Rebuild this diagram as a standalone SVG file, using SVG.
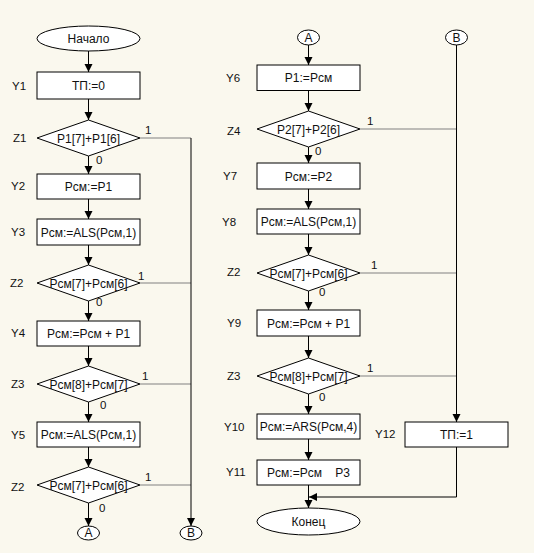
<svg xmlns="http://www.w3.org/2000/svg" width="534" height="553" viewBox="0 0 534 553">
<style>
.s{fill:#fff;stroke:#000;stroke-width:1}
.t{font-family:"Liberation Sans",Arial,sans-serif;font-size:12px;fill:#111;text-anchor:middle}
.l{font-family:"Liberation Sans",Arial,sans-serif;font-size:11.5px;fill:#111}
.a{stroke:#000;stroke-width:1;fill:none;marker-end:url(#ah)}
.g{stroke:#808080;stroke-width:1;fill:none}
</style>
<defs>
<marker id="ah" markerUnits="userSpaceOnUse" markerWidth="10" markerHeight="10" refX="8" refY="4" orient="auto">
<path d="M0,0 L8,4 L0,8 Z" fill="#000"/>
</marker>
</defs>
<rect width="534" height="553" fill="#faf8ee"/>
<g id="connectors">
<line class="a" x1="88.5" y1="51" x2="88.5" y2="72"/>
<line class="a" x1="88.5" y1="99" x2="88.5" y2="120"/>
<line class="a" x1="88.5" y1="156" x2="88.5" y2="174"/>
<line class="a" x1="88.5" y1="199" x2="88.5" y2="219"/>
<line class="a" x1="88.5" y1="245" x2="88.5" y2="265"/>
<line class="a" x1="88.5" y1="301" x2="88.5" y2="321"/>
<line class="a" x1="88.5" y1="346" x2="88.5" y2="366"/>
<line class="a" x1="88.5" y1="402" x2="88.5" y2="422"/>
<line class="a" x1="88.5" y1="447" x2="88.5" y2="467"/>
<line class="a" x1="88.5" y1="503" x2="88.5" y2="526"/>
<line class="g" x1="140" y1="138" x2="191" y2="138"/>
<line class="g" x1="140" y1="283" x2="191" y2="283"/>
<line class="g" x1="140" y1="384" x2="191" y2="384"/>
<line class="g" x1="140" y1="485" x2="191" y2="485"/>
<line class="a" x1="191" y1="138" x2="191" y2="526"/>
<line class="a" x1="308.5" y1="45" x2="308.5" y2="65"/>
<line class="a" x1="308.5" y1="90.5" x2="308.5" y2="111"/>
<line class="a" x1="308.5" y1="147" x2="308.5" y2="163"/>
<line class="a" x1="308.5" y1="189" x2="308.5" y2="209"/>
<line class="a" x1="308.5" y1="234" x2="308.5" y2="255"/>
<line class="a" x1="308.5" y1="291" x2="308.5" y2="310"/>
<line class="a" x1="308.5" y1="336" x2="308.5" y2="358"/>
<line class="a" x1="308.5" y1="394" x2="308.5" y2="414"/>
<line class="a" x1="308.5" y1="439" x2="308.5" y2="460"/>
<line class="a" x1="308.5" y1="485" x2="308.5" y2="508"/>
<line class="g" x1="360" y1="129" x2="456.5" y2="129"/>
<line class="g" x1="360" y1="273" x2="456.5" y2="273"/>
<line class="g" x1="360" y1="376" x2="456.5" y2="376"/>
<line class="a" x1="456.5" y1="45" x2="456.5" y2="422"/>
<polyline class="a" points="456.5,447 456.5,497 309,497"/>
<text class="l" x="145" y="134">1</text>
<text class="l" x="96" y="164">0</text>
<text class="l" x="138" y="280">1</text>
<text class="l" x="96" y="306">0</text>
<text class="l" x="142" y="380">1</text>
<text class="l" x="100" y="409">0</text>
<text class="l" x="145" y="481">1</text>
<text class="l" x="99" y="512">0</text>
<text class="l" x="367" y="125">1</text>
<text class="l" x="315" y="155">0</text>
<text class="l" x="371" y="269">1</text>
<text class="l" x="319" y="296">0</text>
<text class="l" x="367" y="372">1</text>
<text class="l" x="319" y="401">0</text>
</g>
<g id="start"><ellipse class="s" cx="88.5" cy="38.5" rx="51.5" ry="12.5"/><text class="t" x="88.5" y="42.5">Начало</text></g>
<g id="Y1"><rect class="s" x="37" y="72" width="103" height="27"/><text class="t" x="88.5" y="90">ТП:=0</text><text class="l" x="12" y="90">Y1</text></g>
<g id="Z1"><polygon class="s" points="88.5,120 140,138 88.5,156 37,138"/><text class="t" x="88.5" y="142.5">P1[7]+P1[6]</text><text class="l" x="13" y="142">Z1</text></g>
<g id="Y2"><rect class="s" x="37" y="174" width="103" height="25"/><text class="t" x="88.5" y="191">Рсм:=P1</text><text class="l" x="11" y="190">Y2</text></g>
<g id="Y3"><rect class="s" x="37" y="219" width="103" height="26"/><text class="t" x="88.5" y="236.5">Рсм:=ALS(Рсм,1)</text><text class="l" x="11" y="236">Y3</text></g>
<g id="Z2a"><polygon class="s" points="88.5,265 140,283 88.5,301 37,283"/><text class="t" x="88.5" y="287.5">Рсм[7]+Рсм[6]</text><text class="l" x="10" y="287">Z2</text></g>
<g id="Y4"><rect class="s" x="37" y="321" width="103" height="25"/><text class="t" x="88.5" y="338">Рсм:=Рсм + P1</text><text class="l" x="11" y="337">Y4</text></g>
<g id="Z3a"><polygon class="s" points="88.5,366 140,384 88.5,402 37,384"/><text class="t" x="88.5" y="388.5">Рсм[8]+Рсм[7]</text><text class="l" x="11" y="388">Z3</text></g>
<g id="Y5"><rect class="s" x="37" y="422" width="103" height="25"/><text class="t" x="88.5" y="439">Рсм:=ALS(Рсм,1)</text><text class="l" x="11" y="439">Y5</text></g>
<g id="Z2b"><polygon class="s" points="88.5,467 140,485 88.5,503 37,485"/><text class="t" x="88.5" y="489.5">Рсм[7]+Рсм[6]</text><text class="l" x="11" y="491">Z2</text></g>
<g id="A1"><ellipse class="s" cx="88.5" cy="533" rx="11" ry="7"/><text class="t" x="88.5" y="537">A</text></g>
<g id="B1"><ellipse class="s" cx="191" cy="533" rx="11" ry="7"/><text class="t" x="191" y="537">B</text></g>
<g id="A2"><ellipse class="s" cx="308.5" cy="37.5" rx="11" ry="7.5"/><text class="t" x="308.5" y="41.5">A</text></g>
<g id="B2"><ellipse class="s" cx="456.5" cy="37.5" rx="11" ry="7.5"/><text class="t" x="456.5" y="41.5">B</text></g>
<g id="Y6"><rect class="s" x="257" y="65" width="103" height="25.5"/><text class="t" x="308.5" y="82">P1:=Рсм</text><text class="l" x="226" y="82">Y6</text></g>
<g id="Z4"><polygon class="s" points="308.5,111 360,129 308.5,147 257,129"/><text class="t" x="308.5" y="133.5">P2[7]+P2[6]</text><text class="l" x="227" y="135">Z4</text></g>
<g id="Y7"><rect class="s" x="257" y="163" width="103" height="26"/><text class="t" x="308.5" y="180.5">Рсм:=P2</text><text class="l" x="223" y="180">Y7</text></g>
<g id="Y8"><rect class="s" x="257" y="209" width="103" height="25"/><text class="t" x="308.5" y="226">Рсм:=ALS(Рсм,1)</text><text class="l" x="222" y="226">Y8</text></g>
<g id="Z2c"><polygon class="s" points="308.5,255 360,273 308.5,291 257,273"/><text class="t" x="308.5" y="277.5">Рсм[7]+Рсм[6]</text><text class="l" x="227" y="276">Z2</text></g>
<g id="Y9"><rect class="s" x="257" y="310" width="103" height="26"/><text class="t" x="308.5" y="327.5">Рсм:=Рсм + P1</text><text class="l" x="227" y="327">Y9</text></g>
<g id="Z3b"><polygon class="s" points="308.5,358 360,376 308.5,394 257,376"/><text class="t" x="308.5" y="380.5">Рсм[8]+Рсм[7]</text><text class="l" x="227" y="380">Z3</text></g>
<g id="Y10"><rect class="s" x="257" y="414" width="103" height="25"/><text class="t" x="308.5" y="431">Рсм:=ARS(Рсм,4)</text><text class="l" x="224" y="431">Y10</text></g>
<g id="Y11"><rect class="s" x="257" y="460" width="103" height="25"/><text class="t" x="308.5" y="477" xml:space="preserve">Рсм:=Рсм    P3</text><text class="l" x="226" y="476">Y11</text></g>
<g id="end"><ellipse class="s" cx="308.5" cy="521.5" rx="51.5" ry="13.5"/><text class="t" x="308.5" y="525.5">Конец</text></g>
<g id="Y12"><rect class="s" x="405" y="422" width="103" height="25"/><text class="t" x="456.5" y="439">ТП:=1</text><text class="l" x="375" y="438">Y12</text></g>
</svg>
